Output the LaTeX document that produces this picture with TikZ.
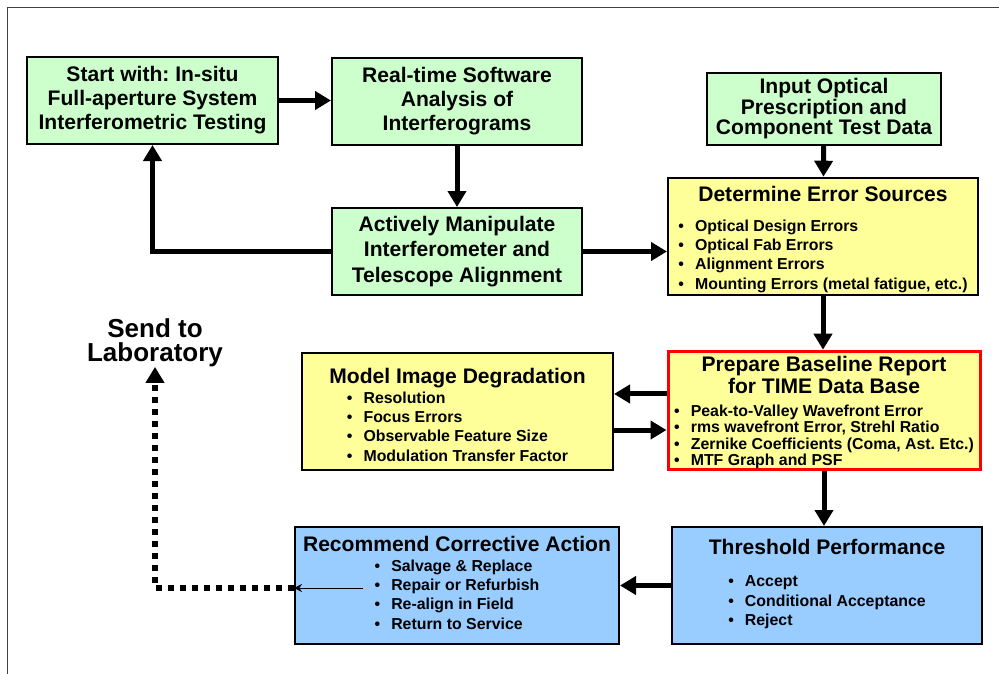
\documentclass[tikz,border=0pt]{standalone}
\usepackage{fontspec}
\setmainfont{Liberation Sans}
\usepackage{tikz}
\usetikzlibrary{arrows.meta}
\frenchspacing

\definecolor{boxgreen}{RGB}{204,255,204}
\definecolor{boxyellow}{RGB}{255,255,153}
\definecolor{boxblue}{RGB}{153,204,255}
\newcommand{\blt}{\makebox[12.5pt][l]{\textbullet}}
\newcommand{\itemfont}{\fontsize{11.9}{14.6}\selectfont}
\newcommand{\topgap}[1]{\rule{0pt}{#1}}

\begin{document}
\begin{tikzpicture}[x=0.75pt,y=-0.75pt,
	box/.style={shape=rectangle,draw=black,line width=1.5pt,align=center,inner sep=0pt,
		font=\bfseries\fontsize{15.8}{18}\selectfont},
	greenbox/.style={box,fill=boxgreen},
	yellowbox/.style={box,fill=boxyellow},
	bluebox/.style={box,fill=boxblue},
	arr/.style={line width=3.75pt,-{Triangle[length=12pt,width=13.5pt]}},
	dotarr/.style={line width=4.2pt,dash pattern=on 4.5pt off 4.5pt,-{Triangle[length=12pt,width=13.5pt]}},
	thinarr/.style={line width=0.75pt,-{Stealth[length=6pt,width=6pt]}}]

	\useasboundingbox (0,0) rectangle (999,674);
	\draw[black!75,line width=0.75pt] (7,674) -- (7,8) -- (999,8);

	\node[greenbox,minimum width=188.25pt,minimum height=65.25pt] (start) at (152.5,100.5)
		{Start with: In-situ\\Full-aperture System\\Interferometric Testing};
	\node[greenbox,minimum width=187.5pt,minimum height=65.25pt] (soft) at (457,101.5)
		{Real-time Software\\Analysis of\\Interferograms};
	\node[greenbox,minimum width=187.5pt,minimum height=65.25pt,font=\bfseries\fontsize{15.8}{19}\selectfont] (manip) at (457,251.5)
		{Actively Manipulate\\Interferometer and\\Telescope Alignment};
	\node[greenbox,minimum width=175.5pt,minimum height=54pt,font=\bfseries\fontsize{15.8}{15.4}\selectfont] (input) at (824,109)
		{Input Optical\\Prescription and\\Component Test Data};
	\node[yellowbox,minimum width=232.5pt,minimum height=87.75pt] (errsrc) at (823,236.5)
		{\topgap{17.5pt}Determine Error Sources\\[4.5pt]{\itemfont\begin{tabular}[t]{@{}l@{}}
		\blt Optical Design Errors\\
		\blt Optical Fab Errors\\
		\blt Alignment Errors\\
		\blt Mounting Errors (metal fatigue, etc.)\end{tabular}}};
	\node[yellowbox,minimum width=233.25pt,minimum height=87.75pt,font=\bfseries\fontsize{15.8}{16.5}\selectfont] (model) at (457.5,411.5)
		{\topgap{20.5pt}Model Image Degradation\\[-1.5pt]{\itemfont\begin{tabular}[t]{@{}l@{}}
		\blt Resolution\\
		\blt Focus Errors\\
		\blt Observable Feature Size\\
		\blt Modulation Transfer Factor\end{tabular}}};
	\node[yellowbox,draw=red,line width=2.25pt,minimum width=234pt,minimum height=87.75pt,font=\bfseries\fontsize{15.8}{16.5}\selectfont] (report) at (824,410.5)
		{\topgap{15.5pt}Prepare Baseline Report\\for TIME Data Base\\[0.75pt]{\fontsize{11.9}{11.5}\selectfont\begin{tabular}[t]{@{}l@{}}
		\blt Peak-to-Valley Wavefront Error\\
		\blt rms wavefront Error, Strehl Ratio\\
		\blt Zernike Coefficients (Coma, Ast. Etc.)\\
		\blt MTF Graph and PSF\end{tabular}}};
	\node[bluebox,minimum width=232.5pt,minimum height=87.75pt,font=\bfseries\fontsize{15.8}{24}\selectfont] (thresh) at (827,585.5)
		{Threshold Performance\\{\itemfont\begin{tabular}[t]{@{}l@{}}
		\blt Accept\\
		\blt Conditional Acceptance\\
		\blt Reject\end{tabular}}};
	\node[bluebox,minimum width=243pt,minimum height=87.75pt,font=\bfseries\fontsize{15.8}{16.5}\selectfont] (action) at (457,585.5)
		{Recommend Corrective Action\\[-1.5pt]{\itemfont\begin{tabular}[t]{@{}l@{}}
		\blt Salvage \& Replace\\
		\blt Repair or Refurbish\\
		\blt Re-align in Field\\
		\blt Return to Service\end{tabular}}};
	\node[align=center,inner sep=0pt,font=\bfseries\fontsize{19.5}{18}\selectfont] (lab) at (155,342.5)
		{Send to\\Laboratory};
	\coordinate (repair) at (363,588);

	\draw[arr] (start.east) -- (start.east -| soft.west);
	\draw[arr] (soft) -- (manip);
	\draw[arr] (manip.west) -| (start.south);
	\draw[arr] (manip.east) -- (manip.east -| errsrc.west);
	\draw[arr] (input) -- (errsrc);
	\draw[arr] (errsrc.south) -- (errsrc.south |- report.north);
	\draw[arr] ([yshift=12.4pt]report.west) -- ([yshift=12.4pt]report.west -| model.east);
	\draw[arr] ([yshift=-13.9pt]model.east) -- ([yshift=-13.9pt]model.east -| report.west);
	\draw[arr] (report.south) -- (report.south |- thresh.north);
	\draw[arr] (thresh.west) -- (thresh.west -| action.east);
	\draw[thinarr] (repair) -- (repair -| action.west);
	\draw[dotarr] (repair -| action.west) -| (lab.south);
\end{tikzpicture}
\end{document}
